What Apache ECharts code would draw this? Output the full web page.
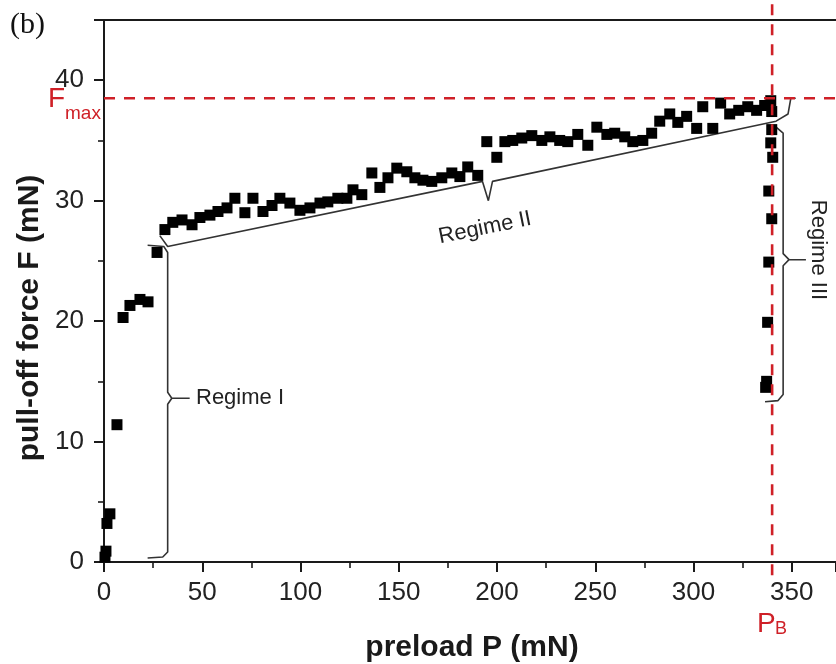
<!DOCTYPE html>
<html><head><meta charset="utf-8">
<script src="https://cdn.jsdelivr.net/npm/echarts@6/dist/echarts.min.js"></script>
<style>html,body{margin:0;padding:0;background:#fff}#c{width:836px;height:664px}</style>
</head><body><div id="c"></div>
<script>
// ---- data ----
const preloadP = [0.5, 1, 1.5, 3, 6.6, 9.7, 13.2, 18.3, 22.4, 27,
  31, 35, 39.7, 44.8, 48.8, 53.9, 58, 62.6, 66.6, 71.7,
  75.8, 80.9, 85.5, 89.5, 94.6, 99.7, 104.8, 109.9, 113.9, 119,
  123.6, 126.7, 131.2, 136.3, 140.4, 144.5, 149, 154.1, 158.2, 162.3,
  166.8, 171.9, 177, 181.1, 185.1, 190.2, 194.8, 199.9, 204, 208,
  212.6, 217.7, 222.8, 226.9, 231.9, 236, 241.1, 246.2, 250.8, 255.9,
  259.9, 265, 269.1, 274.2, 278.7, 282.8, 287.9, 292, 296.5, 301.6,
  304.7, 309.8, 313.8, 318.4, 323, 327.6, 332.1, 336.2, 339.3, 339.8,
  339.8, 339.3, 340.3, 338.3, 339.8, 338.3, 337.7, 337.2, 336.7];
const pullOffF = [0.4, 0.9, 3.2, 4.0, 11.4, 20.3, 21.3, 21.8, 21.6, 25.7,
  27.6, 28.2, 28.4, 28.0, 28.6, 28.8, 29.1, 29.4, 30.2, 29.0,
  30.2, 29.1, 29.6, 30.2, 29.8, 29.2, 29.4, 29.8, 29.9, 30.2,
  30.2, 30.9, 30.5, 32.3, 31.1, 31.9, 32.7, 32.4, 31.9, 31.7,
  31.6, 31.9, 32.3, 32.0, 32.8, 32.1, 34.9, 33.6, 34.9, 35.0,
  35.2, 35.4, 35.0, 35.3, 35.0, 34.9, 35.5, 34.6, 36.1, 35.5,
  35.6, 35.3, 34.9, 35.0, 35.6, 36.6, 37.2, 36.5, 37.0, 36.0,
  37.8, 36.0, 38.1, 37.2, 37.5, 37.8, 37.5, 37.9, 38.3, 37.4,
  35.9, 34.8, 33.6, 30.8, 28.5, 24.9, 19.9, 15.0, 14.5];

const Fmax = 38.5;
const PB = 340;

// brace annotation paths (data units)
const braceI_x = [22.2, 29.9, 32.4, 32.4, 34.5, 43.6, 34.5, 32.4, 32.4, 30.4, 22.2];
const braceI_y = [0.33, 0.42, 0.83, 13.1, 13.6, 13.6, 13.6, 14.1, 25.7, 26.2, 26.3];
const braceII_x = [28.4, 32.4, 192.6, 195.6, 197.7, 342, 348.1, 349.5, 352];
const braceII_y = [27.1, 26.2, 31.6, 30.0, 31.6, 36.6, 37.2, 38.5, 38.5];
const braceIII_x = [342, 345.6, 345.6, 348.6, 357.2, 348.6, 345.6, 345.6, 343, 336.4];
const braceIII_y = [36.1, 35.6, 25.6, 25.1, 25.1, 25.1, 24.6, 13.9, 13.4, 13.3];

const xMin = 0, xMax = 372.5, xInterval = 50;
const yMin = 0, yMax = 45, yInterval = 10;

const zip = (a, b) => a.map((v, i) => [v, b[i]]);

const chart = echarts.init(document.getElementById('c'), null, {renderer: 'canvas'});
const axisCol = '#1a1a1a';
const red = '#cf2027';
const braceStyle = {color: '#333', width: 1.6};
const fontSans = 'Liberation Sans, Arial, sans-serif';

chart.setOption({
  animation: false,
  backgroundColor: '#fff',
  grid: {left: 104, right: 0, top: 20, bottom: 102, containLabel: false},
  xAxis: [{
    type: 'value', min: xMin, max: xMax, interval: xInterval, position: 'bottom',
    axisLine: {show: true, onZero: false, lineStyle: {color: axisCol, width: 2}},
    axisTick: {show: true, length: 10, lineStyle: {color: axisCol, width: 2}},
    minorTick: {show: true, splitNumber: 2, length: 6, lineStyle: {color: axisCol, width: 1.6}},
    axisLabel: {fontSize: 26, fontFamily: fontSans, color: '#222', margin: 18, showMaxLabel: false},
    splitLine: {show: false}
  }, {
    type: 'value', min: xMin, max: xMax, position: 'top',
    axisLine: {show: true, onZero: false, lineStyle: {color: axisCol, width: 2}},
    axisTick: {show: false}, axisLabel: {show: false}, splitLine: {show: false}
  }],
  yAxis: [{
    type: 'value', min: yMin, max: yMax, interval: yInterval,
    axisLine: {show: true, onZero: false, lineStyle: {color: axisCol, width: 2}},
    axisTick: {show: true, length: 10, lineStyle: {color: axisCol, width: 2}},
    minorTick: {show: true, splitNumber: 2, length: 6, lineStyle: {color: axisCol, width: 1.6}},
    axisLabel: {fontSize: 26, fontFamily: fontSans, color: '#222', margin: 20, showMaxLabel: false},
    splitLine: {show: false}
  }],
  series: [
    {type: 'line', data: zip(braceI_x, braceI_y), symbol: 'none', lineStyle: braceStyle, z: 2},
    {type: 'line', data: zip(braceII_x, braceII_y), symbol: 'none', lineStyle: braceStyle, z: 2, clip: false},
    {type: 'line', data: zip(braceIII_x, braceIII_y), symbol: 'none', lineStyle: braceStyle, z: 2, clip: false},
    {type: 'scatter', data: zip(preloadP, pullOffF), symbol: 'rect', symbolSize: 11,
      itemStyle: {color: '#000', opacity: 1}, z: 4, clip: false},
    {type: 'line', data: [[xMin, Fmax], [xMax, Fmax]], symbol: 'none',
      lineStyle: {color: red, width: 2.6, type: [11, 9]}, z: 5},
    {type: 'line', data: [[PB, -1.1], [PB, 46.7]], symbol: 'none', clip: false,
      lineStyle: {color: red, width: 2.6, type: [11, 9]}, z: 5}
  ],
  graphic: [
    {type: 'text', x: 10, y: 10, style: {text: '(b)', font: '30px "Liberation Serif", "Times New Roman", serif', fill: '#111'}},
    {type: 'text', x: 196, y: 398, style: {text: 'Regime I', font: '22px ' + fontSans, fill: '#222', verticalAlign: 'middle'}},
    {type: 'text', x: 485, y: 228, rotation: 0.2, style: {text: 'Regime II', font: '22px ' + fontSans, fill: '#222', align: 'center', verticalAlign: 'middle'}},
    {type: 'text', x: 818, y: 250, rotation: -Math.PI / 2, style: {text: 'Regime III', font: '22px ' + fontSans, fill: '#222', align: 'center', verticalAlign: 'middle'}},
    {type: 'text', x: 48, y: 99, style: {text: 'F', font: '28px ' + fontSans, fill: red, verticalAlign: 'middle'}},
    {type: 'text', x: 65, y: 114, style: {text: 'max', font: '19px ' + fontSans, fill: red, verticalAlign: 'middle'}},
    {type: 'text', x: 757, y: 624, style: {text: 'P', font: '28px ' + fontSans, fill: red, verticalAlign: 'middle'}},
    {type: 'text', x: 775, y: 629, style: {text: 'B', font: '18px ' + fontSans, fill: red, verticalAlign: 'middle'}},
    {type: 'text', x: 472, y: 648, style: {text: 'preload P (mN)', font: 'bold 30px ' + fontSans, fill: '#1a1a1a', align: 'center', verticalAlign: 'middle'}},
    {type: 'text', x: 30, y: 318, rotation: Math.PI / 2, style: {text: 'pull-off force F (mN)', font: 'bold 30px ' + fontSans, fill: '#1a1a1a', align: 'center', verticalAlign: 'middle'}}
  ]
});
</script>
</body></html>
